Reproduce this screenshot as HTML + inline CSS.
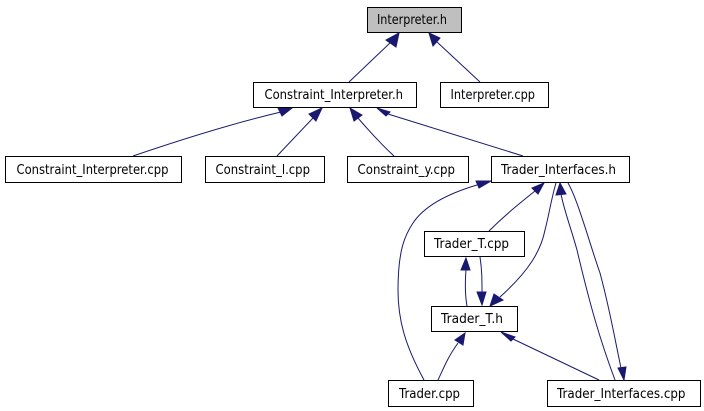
<!DOCTYPE html>
<html><head><meta charset="utf-8"><style>
html,body{margin:0;padding:0;background:#fff}
svg{display:block}
text{font-family:"DejaVu Sans","Liberation Sans",sans-serif;font-size:13px;fill:#000}
.b{fill:#fff;stroke:#000;stroke-width:1}
.e{fill:none;stroke:#191970;stroke-width:1}
.a{fill:#191970;stroke:#191970;stroke-width:1}
</style></head><body>
<svg width="704" height="411" viewBox="0 0 704 411" xmlns="http://www.w3.org/2000/svg">
<rect width="704" height="411" fill="#fff"/>
<path class="e" d="M349 82L391 42"/><polygon class="a" points="399,33 386,40 396,47"/>
<path class="e" d="M480 82L437 42"/><polygon class="a" points="429,33 440,38 433,46"/>
<path class="e" d="M133 156C180 140 230 124 281 112"/><polygon class="a" points="292,108 278,108 282,116"/>
<path class="e" d="M277 156L313 118"/><polygon class="a" points="322,108 309,114 316,121"/>
<path class="e" d="M394 156C380 143 370 132 358 118"/><polygon class="a" points="350,108 362,115 354,121"/>
<path class="e" d="M523 156L388 114"/><polygon class="a" points="377,108 390,112 386,116"/>
<path class="e" d="M424 380C405 345 398 320 398 290C398 250 405 235 413 223C425 205 450 193 477 185"/><polygon class="a" points="491,181 476,181 479,188"/>
<path class="e" d="M489 231C505 215 520 203 535 191"/><polygon class="a" points="544,183 532,188 538,194"/>
<path class="e" d="M556 183C551 200 549 215 545 230C541 250 530 270 500 297"/><polygon class="a" points="490,306 494,294 503,300"/>
<path class="e" d="M615 380C600 340 590 305 577 250C570 225 564 210 561 194"/><polygon class="a" points="560,183 556,195 566,194"/>
<path class="e" d="M568 183C578 200 590 245 600 273C610 310 615 340 621 368"/><polygon class="a" points="624,380 618,368 626,367"/>
<path class="e" d="M467 306C465 295 465 283 466 270"/><polygon class="a" points="466,258 461,270 470,270"/>
<path class="e" d="M480 257C482 270 482 280 482 292"/><polygon class="a" points="482,305 477,292 486,292"/>
<path class="e" d="M438 380C445 365 448 357 458 343"/><polygon class="a" points="465,333 455,340 463,345"/>
<path class="e" d="M599 380L513 339"/><polygon class="a" points="501,332 515,337 511,341"/>

<rect x="367.5" y="7.5" width="94" height="25" fill="#bfbfbf" stroke="#000"/>
<text x="377" y="24" textLength="70" lengthAdjust="spacingAndGlyphs">Interpreter.h</text>
<rect class="b" x="253.5" y="82.5" width="163" height="25"/>
<text x="264.5" y="99" textLength="138.5" lengthAdjust="spacingAndGlyphs">Constraint_Interpreter.h</text>
<rect class="b" x="440.5" y="82.5" width="108" height="25"/>
<text x="450.5" y="99" textLength="84.5" lengthAdjust="spacingAndGlyphs">Interpreter.cpp</text>
<rect class="b" x="5.5" y="156.5" width="176" height="26"/>
<text x="16.5" y="174" textLength="152" lengthAdjust="spacingAndGlyphs">Constraint_Interpreter.cpp</text>
<rect class="b" x="205.5" y="156.5" width="119" height="26"/>
<text x="215.5" y="174" textLength="94.5" lengthAdjust="spacingAndGlyphs">Constraint_l.cpp</text>
<rect class="b" x="347.5" y="156.5" width="121" height="26"/>
<text x="357.5" y="174" textLength="97.5" lengthAdjust="spacingAndGlyphs">Constraint_y.cpp</text>
<rect class="b" x="491.5" y="156.5" width="138" height="26"/>
<text x="501" y="174" textLength="115" lengthAdjust="spacingAndGlyphs">Trader_Interfaces.h</text>
<rect class="b" x="424.5" y="231.5" width="100" height="25"/>
<text x="434" y="248" textLength="75" lengthAdjust="spacingAndGlyphs">Trader_T.cpp</text>
<rect class="b" x="431.5" y="306.5" width="86" height="25"/>
<text x="441" y="323" textLength="62" lengthAdjust="spacingAndGlyphs">Trader_T.h</text>
<rect class="b" x="388.5" y="380.5" width="85" height="26"/>
<text x="399" y="398" textLength="61" lengthAdjust="spacingAndGlyphs">Trader.cpp</text>
<rect class="b" x="547.5" y="380.5" width="153" height="26"/>
<text x="557" y="398" textLength="128.5" lengthAdjust="spacingAndGlyphs">Trader_Interfaces.cpp</text>
</svg>
</body></html>
